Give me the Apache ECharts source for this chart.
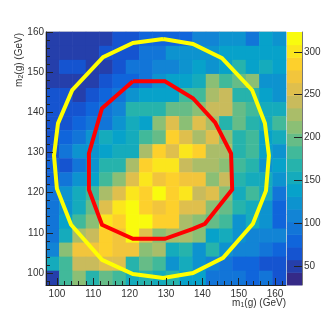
<!DOCTYPE html>
<html><head><meta charset="utf-8">
<style>html,body{margin:0;padding:0;background:#fff}#c{width:332px;height:332px}</style>
<script src="https://cdn.jsdelivr.net/npm/echarts@6/dist/echarts.min.js"></script>
</head><body><div id="c"></div>
<script>
// rows from top (y high) to bottom; columns from x low to x high
const rows = [
[48,48,48,48,48,62,70,75,78,78,80,105,110,120,120,90,145,120],
[48,48,48,48,70,60,70,95,100,120,125,130,130,135,145,145,145,135],
[48,60,60,48,55,60,90,100,105,115,120,135,130,140,170,135,160,140],
[48,48,48,48,60,80,85,100,120,135,135,155,210,190,200,210,130,130],
[60,70,45,58,75,95,130,135,145,140,180,190,220,235,165,175,140,130],
[60,70,60,80,90,110,165,165,170,195,195,215,235,235,195,180,150,155],
[60,70,75,90,95,125,150,140,210,250,215,260,220,170,205,175,150,190],
[60,80,100,120,150,140,160,190,195,280,250,225,250,215,170,185,140,155],
[60,90,120,130,140,150,150,225,280,255,300,290,230,230,170,190,145,130],
[80,65,90,125,165,175,225,285,295,295,240,230,225,210,190,175,130,140],
[85,90,120,140,190,215,255,295,270,285,265,270,210,235,165,160,150,120],
[90,120,150,190,225,260,300,280,320,285,295,245,255,215,160,190,150,100],
[95,125,160,195,255,295,315,285,270,280,250,250,215,195,165,150,120,85],
[95,140,185,210,295,280,310,320,280,285,220,210,195,180,120,155,120,80],
[100,160,220,245,280,275,320,250,215,220,220,215,140,155,130,110,115,105],
[110,215,270,270,285,270,270,215,225,150,170,125,170,130,110,110,90,80],
[155,190,235,235,250,250,175,205,185,125,155,120,110,90,85,80,60,60],
[48,185,210,170,195,185,155,170,150,170,140,135,100,100,95,75,90,60]
];
const xTicks = [100,110,120,130,140,150,160];
const yTicks = [100,110,120,130,140,150,160];
const xMinor = [98,102,104,106,108,112,114,116,118,122,124,126,128,132,134,136,138,142,144,146,148,152,154,156,158,162];
const yMinor = [98,102,104,106,108,112,114,116,118,122,124,126,128,132,134,136,138,142,144,146,148,152,154,156,158];
const zTicks = [50,100,150,200,250,300];
const yellowX = [129.2,137.4,145.4,153.7,157.2,158.3,157.5,153.9,145.7,137.4,129.2,120.9,112.4,103.9,100,99.2,100.3,104.2,112.7,120.9,129.2];
const yellowY = [158.25,157,153.5,145.5,137.25,129.25,120.5,112.25,103.75,100,98.75,99.75,103.25,112,121,129.25,137.25,145.5,153.75,157.25,158.25];
const redX = [120.9,129.7,137.4,143.5,147.9,148.2,140.7,137.4,129.7,120.9,112.4,108.8,108.8,112.4,120.9];
const redY = [147.75,147.75,143.5,137.5,129.75,120.75,112.25,111,108.5,108.5,112,120.75,129.75,141,147.75];
const zMin = 28.5, zMax = 323, nLevels = 20;

const stopsR=[.2082,.0592,.0780,.0232,.1802,.5301,.8186,.9956,.9764];
const stopsG=[.1664,.3599,.5041,.6419,.7178,.7492,.7328,.7862,.9832];
const stopsB=[.5293,.8684,.8385,.7914,.6425,.4662,.3499,.1968,.0539];
function bird(t){const p=t*8,i=Math.min(7,Math.floor(p)),f=p-i;
  const c=a=>Math.round(255*(a[i]+(a[i+1]-a[i])*f));
  return `rgb(${c(stopsR)},${c(stopsG)},${c(stopsB)})`;}
const step=(zMax-zMin)/nLevels;
const palette=Array.from({length:nLevels},(_,i)=>bird(i/(nLevels-1)));
const levels=palette.map((col,i)=>({lo:zMin+i*step,hi:zMin+(i+1)*step,col}));
const cells=[];
rows.forEach((r,j)=>r.forEach((v,i)=>cells.push([i,17-j,v])));
const pair=(a,b)=>a.map((v,i)=>[v,b[i]]);
const idx=Array.from({length:18},(_,i)=>i);
const labelStyle={fontFamily:'Liberation Sans',fontSize:10,color:'#333'};
const titleRich={a:{fontFamily:'Liberation Sans',fontSize:10,fill:'#333',color:'#333'},
  b:{fontFamily:'Liberation Sans',fontSize:7,fill:'#333',color:'#333',verticalAlign:'bottom',padding:[4,0,0,0]}};
const none={show:false};
const title=(text,x,y,rotation)=>({type:'text',x,y,rotation,silent:true,
  style:{text,rich:titleRich,align:'right',verticalAlign:'middle'}});

const chart=echarts.init(document.getElementById('c'),null,{renderer:'canvas'});
chart.setOption({
  animation:false,
  backgroundColor:'#fff',
  grid:[
    {left:46,top:32,width:240,height:253,show:true,borderColor:'#bdbdbd',borderWidth:1,backgroundColor:'transparent',outerBoundsMode:'none'},
    {left:287,top:32,width:15,height:253,show:false,outerBoundsMode:'none'}
  ],
  visualMap:{show:false,type:'piecewise',seriesIndex:0,dimension:2,
    pieces:levels.map(l=>({gte:l.lo,lt:l.hi,color:l.col})),outOfRange:{color:levels[nLevels-1].col}},
  graphic:[title('{a|m}{b|1}{a|(g) (GeV)}',286,303,0),title('{a|m}{b|2}{a|(g) (GeV)}',19,33,Math.PI/2)],
  xAxis:[
    {type:'category',gridIndex:0,data:idx,show:false,position:'bottom'},
    {type:'value',gridIndex:0,position:'bottom',min:97,max:163,splitLine:none,z:5,
     axisLine:{show:true,onZero:false,lineStyle:{color:'#222',width:1}},
     axisTick:{show:true,inside:true,length:7,customValues:xTicks,lineStyle:{color:'#222'}},
     axisLabel:{customValues:xTicks,margin:4,...labelStyle}},
    {type:'value',gridIndex:0,position:'bottom',min:97,max:163,splitLine:none,z:5,
     axisLine:none,axisLabel:none,
     axisTick:{show:true,inside:true,length:4,customValues:xMinor,lineStyle:{color:'#222'}}},
    {type:'value',gridIndex:1,min:0,max:1,show:false}
  ],
  yAxis:[
    {type:'category',gridIndex:0,data:idx,show:false,position:'left'},
    {type:'value',gridIndex:0,position:'left',min:97,max:160,splitLine:none,z:5,
     axisLine:{show:true,onZero:false,lineStyle:{color:'#222',width:1}},
     axisTick:{show:true,inside:true,length:7,customValues:yTicks,lineStyle:{color:'#222'}},
     axisLabel:{customValues:yTicks,margin:2,...labelStyle}},
    {type:'value',gridIndex:0,position:'left',min:97,max:160,splitLine:none,z:5,
     axisLine:none,axisLabel:none,
     axisTick:{show:true,inside:true,length:4,customValues:yMinor,lineStyle:{color:'#222'}}},
    {type:'value',gridIndex:1,position:'right',min:zMin,max:zMax,splitLine:none,z:5,
     axisLine:{show:true,onZero:false,lineStyle:{color:'#777'}},
     axisTick:{show:true,inside:true,length:8,customValues:zTicks,lineStyle:{color:'#222'}},
     axisLabel:{customValues:zTicks,margin:2,...labelStyle}}
  ],
  series:[
    {type:'heatmap',xAxisIndex:0,yAxisIndex:0,data:cells,z:1,itemStyle:{borderWidth:0}},
    {type:'line',name:'outer',xAxisIndex:1,yAxisIndex:1,data:pair(yellowX,yellowY),symbol:'none',z:3,
     lineStyle:{color:'#ffff00',width:4,join:'miter'}},
    {type:'line',name:'inner',xAxisIndex:1,yAxisIndex:1,data:pair(redX,redY),symbol:'none',z:3,
     lineStyle:{color:'#ff0000',width:4,join:'miter'}},
    {type:'custom',xAxisIndex:3,yAxisIndex:3,data:levels.map(l=>[l.lo,l.hi]),encode:{y:[0,1]},z:1,
     renderItem:(p,api)=>{
       const a=api.coord([0,api.value(0)]),b=api.coord([1,api.value(1)]);
       return {type:'rect',shape:{x:a[0],y:b[1],width:b[0]-a[0],height:a[1]-b[1]+0.5},
         style:{fill:levels[p.dataIndex].col}};
     }}
  ]
});
</script></body></html>
